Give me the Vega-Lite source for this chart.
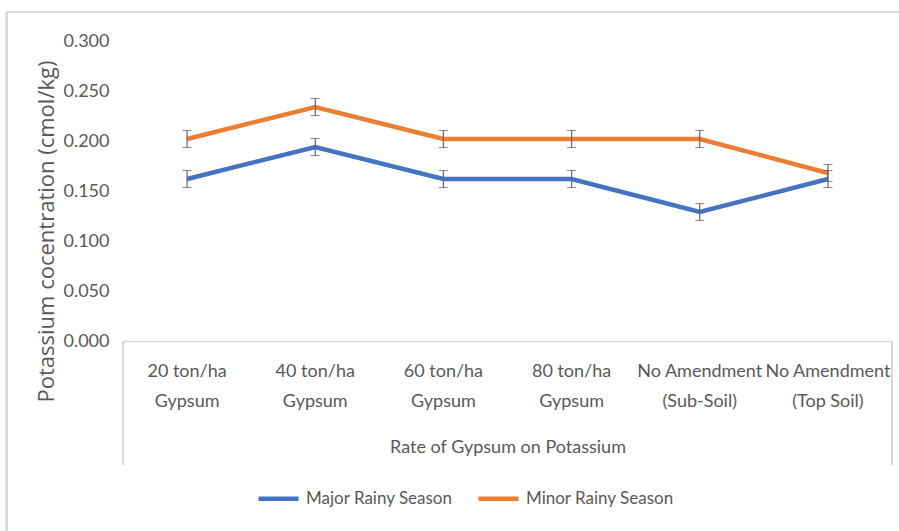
{
  "$schema": "https://vega.github.io/schema/vega-lite/v6.json",
  "autosize": {"type": "none"},
  "width": 769,
  "height": 300,
  "padding": {"left": 123, "top": 41, "right": 7, "bottom": 190},
  "background": "white",
  "config": {
    "view": {"stroke": null},
    "font": "Lato",
    "axis": {"labelColor": "#595959", "titleColor": "#595959", "labelFont": "Lato", "titleFont": "Lato", "titleFontWeight": "normal"},
    "legend": {"labelFont": "Lato"}
  },
  "data": {
    "values": [
      {"cat": "20 ton/ha Gypsum", "season": "Major Rainy Season", "value": 0.162, "lo": 0.1535, "hi": 0.1705},
      {"cat": "40 ton/ha Gypsum", "season": "Major Rainy Season", "value": 0.194, "lo": 0.1855, "hi": 0.2025},
      {"cat": "60 ton/ha Gypsum", "season": "Major Rainy Season", "value": 0.162, "lo": 0.1535, "hi": 0.1705},
      {"cat": "80 ton/ha Gypsum", "season": "Major Rainy Season", "value": 0.162, "lo": 0.1535, "hi": 0.1705},
      {"cat": "No Amendment (Sub-Soil)", "season": "Major Rainy Season", "value": 0.129, "lo": 0.1205, "hi": 0.1375},
      {"cat": "No Amendment (Top Soil)", "season": "Major Rainy Season", "value": 0.162, "lo": 0.1535, "hi": 0.1705},
      {"cat": "20 ton/ha Gypsum", "season": "Minor Rainy Season", "value": 0.202, "lo": 0.1935, "hi": 0.2105},
      {"cat": "40 ton/ha Gypsum", "season": "Minor Rainy Season", "value": 0.234, "lo": 0.2255, "hi": 0.2425},
      {"cat": "60 ton/ha Gypsum", "season": "Minor Rainy Season", "value": 0.202, "lo": 0.1935, "hi": 0.2105},
      {"cat": "80 ton/ha Gypsum", "season": "Minor Rainy Season", "value": 0.202, "lo": 0.1935, "hi": 0.2105},
      {"cat": "No Amendment (Sub-Soil)", "season": "Minor Rainy Season", "value": 0.202, "lo": 0.1935, "hi": 0.2105},
      {"cat": "No Amendment (Top Soil)", "season": "Minor Rainy Season", "value": 0.168, "lo": 0.1595, "hi": 0.1765}
    ]
  },
  "encoding": {
    "x": {
      "field": "cat", "type": "nominal", "sort": null,
      "scale": {"type": "band", "paddingInner": 0, "paddingOuter": 0,
        "domain": ["20 ton/ha Gypsum", "40 ton/ha Gypsum", "60 ton/ha Gypsum", "80 ton/ha Gypsum", "No Amendment (Sub-Soil)", "No Amendment (Top Soil)"]},
      "axis": {
        "title": "Rate of Gypsum on Potassium",
        "titleFontSize": 18, "titleBaseline": "top", "titleY": 97,
        "labelAngle": 0, "labelFontSize": 18, "labelPadding": 21, "labelLineHeight": 30,
        "labelExpr": "indexof(datum.label,' Gypsum')>0 ? [replace(datum.label,' Gypsum',''),'Gypsum'] : [slice(datum.label,0,12), slice(datum.label,13)]",
        "ticks": false, "domainColor": "#d9d9d9", "domainWidth": 1.3, "grid": false
      }
    }
  },
  "layer": [
    {
      "mark": {"type": "rule", "color": "#d9d9d9", "strokeWidth": 2},
      "encoding": {
        "x": {"datum": "20 ton/ha Gypsum", "bandPosition": -0.906},
        "y": {"datum": 0.329},
        "y2": {"datum": -0.2}
      }
    },
    {
      "mark": {"type": "rule", "color": "#d9d9d9", "strokeWidth": 2},
      "encoding": {
        "x": {"datum": "20 ton/ha Gypsum", "bandPosition": -0.906},
        "x2": {"datum": "No Amendment (Top Soil)", "bandPosition": 1.2},
        "y": {"datum": 0.329}
      }
    },
    {
      "mark": {"type": "rule", "color": "#d9d9d9", "strokeWidth": 1.3},
      "encoding": {
        "x": {"datum": "20 ton/ha Gypsum", "bandPosition": 0},
        "y": {"datum": 0},
        "y2": {"datum": -0.124}
      }
    },
    {
      "mark": {"type": "rule", "color": "#d9d9d9", "strokeWidth": 1.3},
      "encoding": {
        "x": {"datum": "No Amendment (Top Soil)", "bandPosition": 1},
        "y": {"datum": 0},
        "y2": {"datum": -0.124}
      }
    },
    {
      "mark": {"type": "line", "strokeWidth": 4.5},
      "encoding": {
        "y": {
          "field": "value", "type": "quantitative",
          "scale": {"domain": [0, 0.3]},
          "axis": {
            "title": "Potassium cocentration (cmol/kg)",
            "titleFont": "Open Sans", "titleFontSize": 22,
            "titleX": -65, "titleY": 190,
            "values": [0, 0.05, 0.1, 0.15, 0.2, 0.25, 0.3],
            "format": ".3f", "labelFontSize": 18, "labelPadding": 14,
            "ticks": false, "domain": false,
            "gridColor": "#d9d9d9", "gridWidth": 1.3
          }
        },
        "color": {
          "field": "season", "type": "nominal",
          "scale": {"domain": ["Major Rainy Season", "Minor Rainy Season"], "range": ["#4472C4", "#ED7D31"]},
          "legend": {
            "title": null, "orient": "none", "direction": "horizontal",
            "legendX": 133, "legendY": 435,
            "symbolType": "stroke", "symbolSize": 1600, "symbolStrokeWidth": 4.5,
            "labelFontSize": 17, "labelColor": "#595959", "labelOffset": 5, "columnPadding": 16
          }
        }
      }
    },
    {
      "mark": {"type": "rule", "color": "#666666", "strokeWidth": 1.2},
      "encoding": {
        "y": {"field": "lo", "type": "quantitative"},
        "y2": {"field": "hi"}
      }
    },
    {
      "mark": {"type": "tick", "color": "#666666", "thickness": 1.2, "size": 9},
      "encoding": {"y": {"field": "lo", "type": "quantitative"}}
    },
    {
      "mark": {"type": "tick", "color": "#666666", "thickness": 1.2, "size": 9},
      "encoding": {"y": {"field": "hi", "type": "quantitative"}}
    }
  ]
}
